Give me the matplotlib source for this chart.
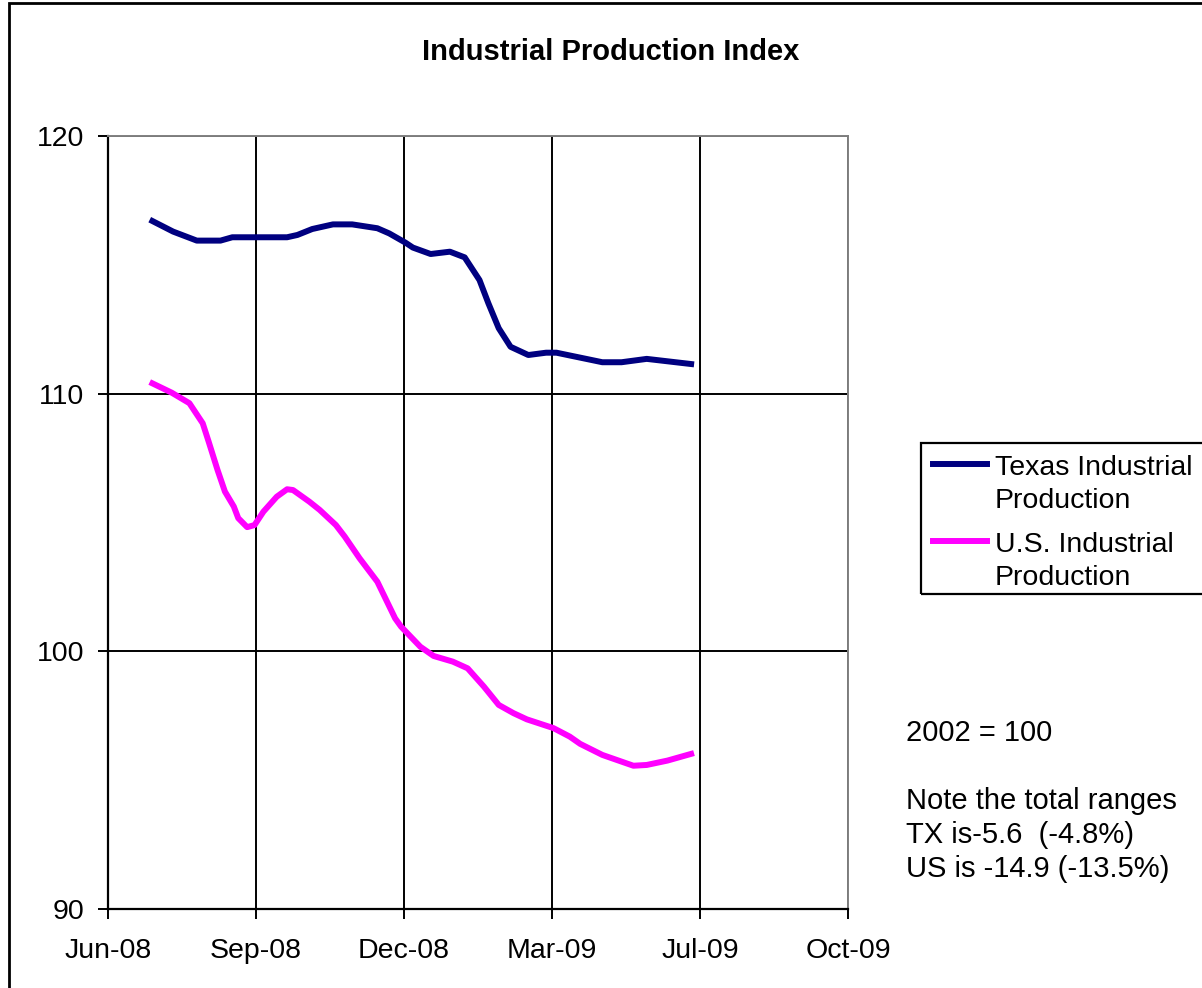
import numpy as np
import pandas as pd
import matplotlib.pyplot as plt
import matplotlib.dates as mdates
from matplotlib.lines import Line2D
from matplotlib.patches import Rectangle

plt.rcParams['font.family'] = ['Liberation Sans', 'DejaVu Sans']

# Texas industrial production (2002 = 100)
tx_dates = ['2008-07-01', '2008-07-15', '2008-07-31', '2008-08-16', '2008-08-24',
            '2008-08-31', '2008-09-30', '2008-10-07', '2008-10-17', '2008-10-31',
            '2008-11-13', '2008-11-30', '2008-12-08', '2008-12-19', '2008-12-24',
            '2009-01-05', '2009-01-18', '2009-01-28', '2009-02-07', '2009-02-13',
            '2009-02-20', '2009-02-28', '2009-03-12', '2009-03-24', '2009-03-31',
            '2009-05-01', '2009-05-14', '2009-05-31', '2009-06-30']
tx_values = [116.70, 116.29, 115.94, 115.94, 116.07,
             116.07, 116.07, 116.16, 116.39, 116.57,
             116.57, 116.42, 116.22, 115.86, 115.67,
             115.42, 115.51, 115.29, 114.41, 113.51,
             112.54, 111.82, 111.50, 111.59, 111.59,
             111.22, 111.22, 111.35, 111.15]

# U.S. industrial production (2002 = 100)
us_dates = ['2008-07-01', '2008-07-14', '2008-07-26', '2008-08-04', '2008-08-08',
            '2008-08-14', '2008-08-19', '2008-08-25', '2008-08-28', '2008-09-03',
            '2008-09-08', '2008-09-14', '2008-09-23', '2008-09-30', '2008-10-04',
            '2008-10-15', '2008-10-22', '2008-11-02', '2008-11-08', '2008-11-18',
            '2008-11-30', '2008-12-12', '2008-12-16', '2008-12-29', '2009-01-07',
            '2009-01-20', '2009-01-30', '2009-02-10', '2009-02-20', '2009-03-02',
            '2009-03-11', '2009-03-29', '2009-04-09', '2009-04-16', '2009-05-01',
            '2009-05-22', '2009-05-31', '2009-06-14', '2009-06-30']
us_values = [110.40, 110.04, 109.63, 108.85, 108.14,
             107.04, 106.20, 105.62, 105.17, 104.82,
             104.90, 105.42, 106.00, 106.29, 106.26,
             105.81, 105.49, 104.90, 104.45, 103.61,
             102.70, 101.28, 100.96, 100.18, 99.82,
             99.60, 99.34, 98.63, 97.92, 97.60,
             97.36, 97.02, 96.69, 96.41, 95.98,
             95.56, 95.59, 95.76, 96.02]

series_labels = [['Texas Industrial', 'Production'], ['U.S. Industrial', 'Production']]
notes = ['2002 = 100', '', 'Note the total ranges', 'TX is-5.6  (-4.8%)', 'US is -14.9 (-13.5%)']

navy = '#000080'
magenta = '#FF00FF'

fig = plt.figure(figsize=(12.02, 9.88), dpi=100)
W, H = 1202, 988
ax = fig.add_axes([108 / W, 1 - 909 / H, (848 - 108) / W, (909 - 136) / H])

ax.plot(pd.to_datetime(tx_dates), tx_values, color=navy, lw=4.3, solid_joinstyle='round')
ax.plot(pd.to_datetime(us_dates), us_values, color=magenta, lw=4.3, solid_joinstyle='round')

# Excel-style date axis: start 2008-06-01, major unit 100 days
start = pd.Timestamp('2008-06-01')
xticks = [start + pd.Timedelta(days=100 * i) for i in range(6)]
ax.set_xlim(xticks[0], xticks[-1])
ax.set_xticks(xticks)
ax.xaxis.set_major_formatter(mdates.DateFormatter('%b-%y'))
ax.set_ylim(90, 120)
ax.set_yticks([90, 100, 110, 120])

ax.grid(True, color='black', lw=1.4)
ax.set_axisbelow(True)
for s in ['top', 'right']:
    ax.spines[s].set_color('#808080')
    ax.spines[s].set_linewidth(1.4)
for s in ['left', 'bottom']:
    ax.spines[s].set_color('black')
    ax.spines[s].set_linewidth(1.6)
ax.tick_params(direction='out', length=7, width=1.4, labelsize=20.5, colors='black')
ax.tick_params(axis='x', pad=14)
ax.tick_params(axis='y', pad=10)

fig.text(611 / W, 1 - 52 / H, 'Industrial Production Index', ha='center', va='center',
         fontsize=21, fontweight='bold')

# legend box (drawn by hand so the handles sit on the first text line)
fig.patches.append(Rectangle((921 / W, 1 - 594 / H), 300 / W, (594 - 443) / H,
                             transform=fig.transFigure, fill=False, ec='black', lw=1.6))
for i, (lab, col) in enumerate(zip(series_labels, [navy, magenta])):
    y0 = 464 + i * 77
    fig.lines.append(Line2D([933 / W, 987 / W], [1 - y0 / H, 1 - y0 / H],
                            transform=fig.transFigure, color=col, lw=4.3))
    for j, part in enumerate(lab):
        fig.text(995 / W, 1 - (475 + i * 77 + j * 33) / H, part, ha='left',
                 va='baseline', fontsize=20.5)

for i, line in enumerate(notes):
    fig.text(906 / W, 1 - (733 + i * 34) / H, line, ha='left', va='center', fontsize=21)

# outer chart border
fig.patches.append(Rectangle((9 / W, -0.05), 1.1, 1 - 3 / H + 0.05,
                             transform=fig.transFigure, fill=False, ec='black', lw=2))

fig.savefig('out.png', dpi=100)
